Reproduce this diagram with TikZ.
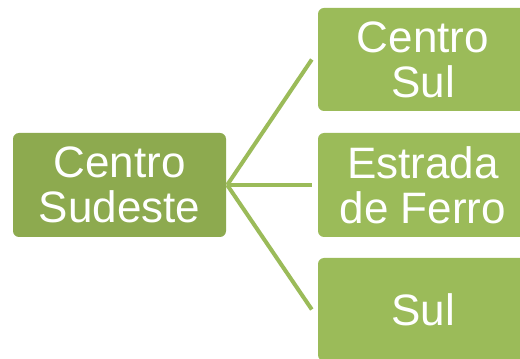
\documentclass[tikz,border=0pt]{standalone}
\usepackage{fontspec}
\setmainfont{Liberation Sans}
\definecolor{darkbox}{HTML}{8DAA4F}
\definecolor{lightbox}{HTML}{9BBB59}
\begin{document}
\begin{tikzpicture}[x=1pt,y=1pt,
  box/.style={rounded corners=6pt, text=white, align=center,
    font=\fontsize{44}{45}\selectfont, inner sep=0pt, anchor=center},
  link/.style={draw=lightbox, line width=4pt}]
\useasboundingbox (0,0) rectangle (520,359);
\fill[white] (0,0) rectangle (520,359);
\node[box, fill=darkbox, minimum width=213pt, minimum height=104pt] (L) at (119.5,174) {Centro\\Sudeste};
\node[box, fill=lightbox, minimum width=210pt, minimum height=103pt] (R1) at (423,299.5) {Centro\\Sul};
\node[box, fill=lightbox, minimum width=210pt, minimum height=104pt] (R2) at (423,174) {Estrada\\de Ferro};
\node[box, fill=lightbox, minimum width=210pt, minimum height=103pt] (R3) at (423,49.5) {Sul};
\coordinate (s) at ([xshift=1pt]L.east);
\coordinate (e1) at ([xshift=-6pt]R1.west);
\coordinate (e2) at ([xshift=-6pt]R2.west);
\coordinate (e3) at ([xshift=-6pt]R3.west);
\draw[link] (s) -- (e1);
\draw[link] (s) -- (e2);
\draw[link] (s) -- (e3);
\end{tikzpicture}
\end{document}
